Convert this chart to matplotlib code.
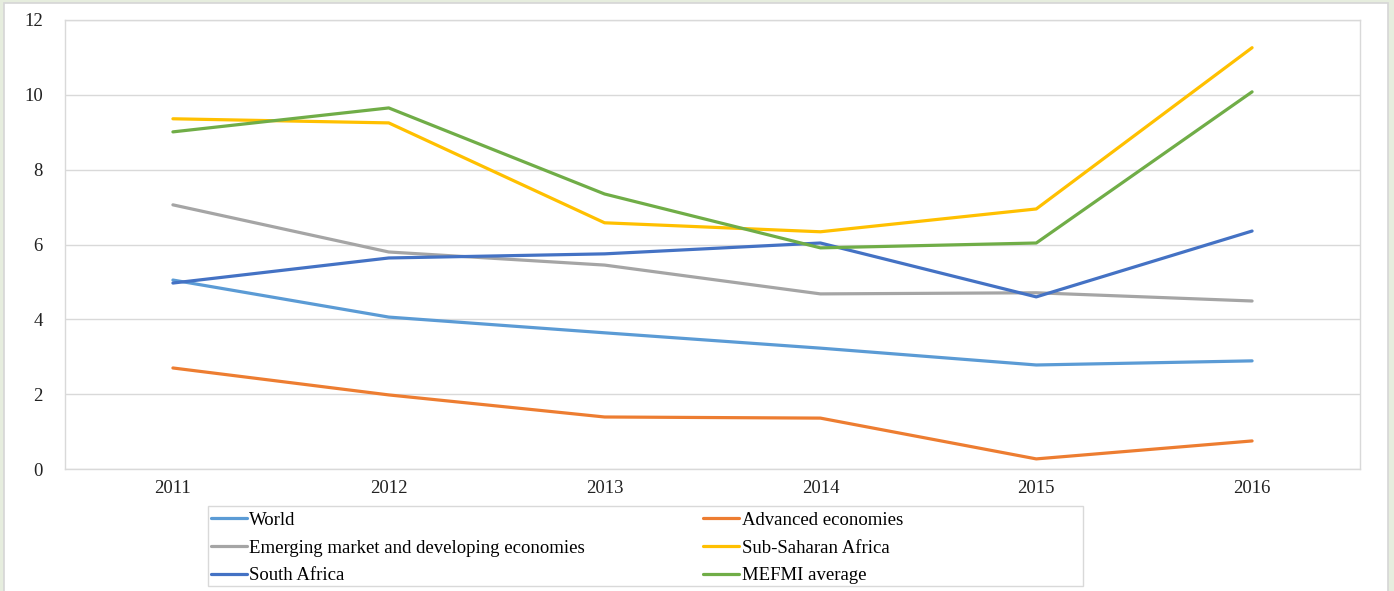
import numpy as np
import matplotlib.pyplot as plt
from matplotlib.patches import Rectangle

years = [2011, 2012, 2013, 2014, 2015, 2016]

world = [5.05, 4.06, 3.64, 3.23, 2.78, 2.89]
advanced = [2.70, 1.98, 1.39, 1.36, 0.27, 0.75]
emerging = [7.06, 5.80, 5.45, 4.68, 4.71, 4.49]
ssa = [9.36, 9.25, 6.58, 6.34, 6.95, 11.26]
south_africa = [4.97, 5.64, 5.75, 6.04, 4.60, 6.36]
mefmi = [9.01, 9.65, 7.35, 5.91, 6.04, 10.08]

names = ["World", "Advanced economies", "Emerging market and developing economies",
         "Sub-Saharan Africa", "South Africa", "MEFMI average"]
colors = ["#5B9BD5", "#ED7D31", "#A5A5A5", "#FFC000", "#4472C4", "#70AD47"]
series = [world, advanced, emerging, ssa, south_africa, mefmi]

plt.rcParams['font.family'] = ['Liberation Serif', 'DejaVu Serif']

W, H = 1394, 591
fig = plt.figure(figsize=(W / 100, H / 100), dpi=100)
fig.patch.set_facecolor('#e6edde')
# white chart area with thin grey edge
fig.patches.append(Rectangle((4 / W, -0.01), 1384 / W, 1 - 3 / H + 0.01,
                             transform=fig.transFigure, facecolor='white',
                             edgecolor='#d6d6d6', lw=1.2, zorder=-1))

ax = fig.add_axes([65 / W, 1 - 469 / H, 1295 / W, 449 / H])
lines = []
for vals, name, c in zip(series, names, colors):
    ln, = ax.plot(years, vals, color=c, lw=2.3, label=name, solid_capstyle='round')
    lines.append(ln)

ax.set_xlim(2010.5, 2016.5)
ax.set_ylim(0, 12)
ax.set_yticks(np.arange(0, 13, 2))
ax.set_xticks(years)
ax.grid(axis='y', color='#d9d9d9', lw=1)
ax.set_axisbelow(True)
for s in ax.spines.values():
    s.set_color('#d9d9d9')
    s.set_linewidth(1)
ax.tick_params(length=0, labelsize=13.5, colors='#222222')
ax.tick_params(axis='y', pad=16)
ax.tick_params(axis='x', pad=8)

# legend box
fig.patches.append(Rectangle((208 / W, 1 - 586 / H), 875 / W, 80 / H,
                             transform=fig.transFigure, facecolor='white',
                             edgecolor='#d9d9d9', lw=1))
order = [0, 2, 4, 1, 3, 5]
leg = fig.legend([lines[i] for i in order], [names[i] for i in order],
                 loc='upper left', ncol=2, frameon=False,
                 bbox_to_anchor=(209 / W, 1 - 510 / H),
                 bbox_transform=fig.transFigure, fontsize=13.5,
                 handlelength=1.9, handletextpad=0.15, borderpad=0.1,
                 labelspacing=0.56, columnspacing=6.3, borderaxespad=0)

fig.savefig('out.png', dpi=100, facecolor=fig.get_facecolor())
